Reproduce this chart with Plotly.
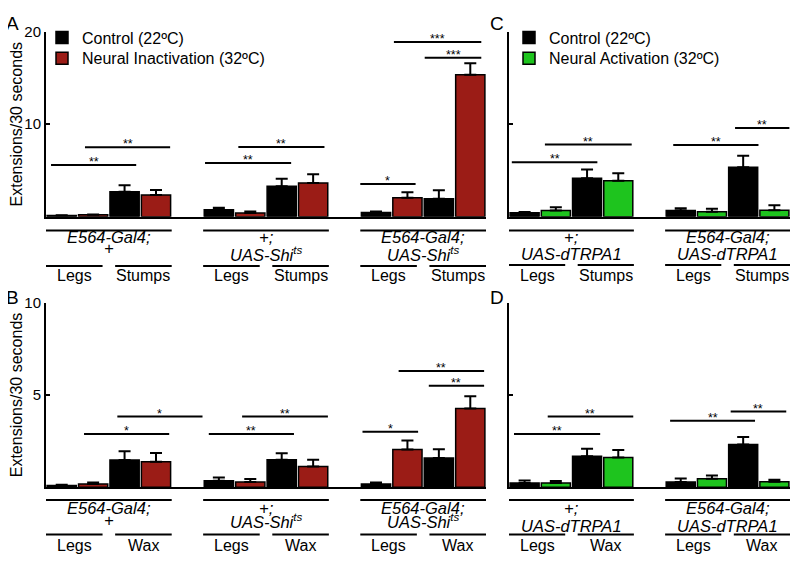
import plotly.graph_objects as go

# ---------------- data ----------------
# bar order inside each genotype: Legs-control, Legs-32C, Stumps/Wax-control, Stumps/Wax-32C
genotypes_AB = ["E564-Gal4;|+", "+;|UAS-Shi<sup>ts</sup>", "E564-Gal4;|UAS-Shi<sup>ts</sup>"]
genotypes_CD = ["+;|UAS-dTRPA1", "E564-Gal4;|UAS-dTRPA1"]

# Panel A (stumps, inactivation)
A_ctrl = [0.12, 2.70, 0.74, 3.30, 0.46, 1.95]
A_ctrl_err = [0.04, 0.70, 0.22, 0.80, 0.10, 0.92]
A_trt = [0.20, 2.34, 0.40, 3.65, 2.05, 15.35]
A_trt_err = [0.05, 0.56, 0.16, 0.95, 0.60, 1.25]

# Panel B (wax, inactivation)
B_ctrl = [0.10, 1.47, 0.35, 1.49, 0.18, 1.58]
B_ctrl_err = [0.03, 0.48, 0.18, 0.35, 0.07, 0.48]
B_trt = [0.18, 1.38, 0.28, 1.13, 2.04, 4.27]
B_trt_err = [0.07, 0.48, 0.16, 0.36, 0.49, 0.66]

# Panel C (stumps, activation)
C_ctrl = [0.43, 4.15, 0.68, 5.36]
C_ctrl_err = [0.07, 0.95, 0.24, 1.24]
C_trt = [0.68, 3.90, 0.53, 0.70]
C_trt_err = [0.35, 0.80, 0.32, 0.53]

# Panel D (wax, activation)
D_ctrl = [0.23, 1.68, 0.28, 2.32]
D_ctrl_err = [0.14, 0.41, 0.20, 0.41]
D_trt = [0.23, 1.61, 0.46, 0.30]
D_trt_err = [0.11, 0.41, 0.18, 0.11]

# significance brackets: (x0, x1, y, label) in data units
A_sig = [(0.16, 2.87, 5.6, "**"), (1.24, 3.95, 7.5, "**"),
         (5.06, 7.80, 5.8, "**"), (6.12, 8.86, 7.55, "**"),
         (10.0, 11.76, 3.55, "*"), (12.05, 13.85, 17.2, "***"), (11.07, 13.85, 18.9, "***")]
B_sig = [(1.21, 3.92, 2.89, "*"), (2.27, 4.98, 3.83, "*"),
         (5.18, 7.89, 2.89, "**"), (6.24, 8.97, 3.83, "**"),
         (10.07, 11.84, 3.01, "*"), (12.18, 13.94, 5.5, "**"), (11.22, 13.94, 6.3, "**")]
C_sig = [(0.09, 2.83, 5.9, "**"), (1.15, 3.93, 7.8, "**"),
         (5.26, 7.99, 7.75, "**"), (7.24, 8.98, 9.6, "**")]
D_sig = [(0.16, 2.92, 2.89, "**"), (1.24, 3.98, 3.83, "**"),
         (5.16, 7.88, 3.6, "**"), (7.10, 8.88, 4.1, "**")]

# ---------------- style ----------------
BLACK = "#000000"
RED = "#9B1C16"
GREEN = "#1EC41E"
FONT = "Liberation Sans, Arial, sans-serif"
OFF = 8                      # page body margin
W, H = 800 - OFF, 562 - OFF


def py(px):  # window pixel from top -> paper fraction
    return (H - (px - OFF)) / H


def pxx(px):
    return (px - OFF) / W


fig = go.Figure()


def positions(n_groups):
    ctrl_x, trt_x = [], []
    for g in range(n_groups):
        s = g * 5
        ctrl_x += [s + 0.5, s + 2.5]
        trt_x += [s + 1.5, s + 3.5]
    return ctrl_x, trt_x


def add_panel(ax, ctrl, ctrl_err, trt, trt_err, n_groups, trt_color, trt_name, legends, show):
    cx, tx = positions(n_groups)
    for (xs, vals, errs, col, name), lg in zip([(cx, ctrl, ctrl_err, BLACK, "Control (22ºC)"),
                                                (tx, trt, trt_err, trt_color, trt_name)], legends):
        fig.add_trace(go.Bar(
            x=xs, y=vals, width=0.93, name=name,
            marker=dict(color=col, line=dict(color=BLACK, width=1.5)),
            error_y=dict(type="data", symmetric=False, array=errs,
                         arrayminus=[0] * len(errs), color=BLACK, thickness=2, width=6),
            xaxis="x" + ax, yaxis="y" + ax, showlegend=show, legend=lg,
        ))


add_panel("", A_ctrl, A_ctrl_err, A_trt, A_trt_err, 3, RED, "Neural Inactivation (32ºC)", ["legend", "legend2"], True)
add_panel("2", B_ctrl, B_ctrl_err, B_trt, B_trt_err, 3, RED, "Neural Inactivation (32ºC)", ["legend", "legend2"], False)
add_panel("3", C_ctrl, C_ctrl_err, C_trt, C_trt_err, 2, GREEN, "Neural Activation (32ºC)", ["legend3", "legend4"], True)
add_panel("4", D_ctrl, D_ctrl_err, D_trt, D_trt_err, 2, GREEN, "Neural Activation (32ºC)", ["legend3", "legend4"], False)

shapes, annots = [], []


def add_sig(ax, sig):
    for x0, x1, y, lab in sig:
        shapes.append(dict(type="line", xref="x" + ax, yref="y" + ax, x0=x0, x1=x1, y0=y, y1=y,
                           line=dict(color=BLACK, width=2)))
        annots.append(dict(xref="x" + ax, yref="y" + ax, x=(x0 + x1) / 2, y=y, text=lab,
                           showarrow=False, yanchor="middle", yshift=3,
                           font=dict(size=12.5, color=BLACK, family=FONT)))


add_sig("", A_sig)
add_sig("2", B_sig)
add_sig("3", C_sig)
add_sig("4", D_sig)


def add_labels(ax, genos, right_label, rows):
    grp_line, l1, l2, plus_y, short_line, lab_y = rows
    for g, geno in enumerate(genos):
        s = g * 5
        top, bot = geno.split("|")
        shapes.append(dict(type="line", xref="x" + ax, yref="paper", x0=s, x1=s + 4,
                           y0=py(grp_line), y1=py(grp_line), line=dict(color=BLACK, width=2)))
        annots.append(dict(xref="x" + ax, yref="paper", x=s + 2, y=py(l1), text="<i>" + top + "</i>",
                           showarrow=False, yanchor="middle", font=dict(size=16.5, family=FONT, color=BLACK)))
        yb = plus_y if bot == "+" else l2
        annots.append(dict(xref="x" + ax, yref="paper", x=s + 2, y=py(yb), text="<i>" + bot + "</i>",
                           showarrow=False, yanchor="middle", font=dict(size=16.5, family=FONT, color=BLACK)))
        for a, b, t in [(s, s + 1.8, "Legs"), (s + 2.2, s + 4, right_label)]:
            shapes.append(dict(type="line", xref="x" + ax, yref="paper", x0=a, x1=b,
                               y0=py(short_line), y1=py(short_line), line=dict(color=BLACK, width=2)))
            annots.append(dict(xref="x" + ax, yref="paper", x=(a + b) / 2, y=py(lab_y), text=t,
                               showarrow=False, yanchor="middle", font=dict(size=16, family=FONT, color=BLACK)))


add_labels("", genotypes_AB, "Stumps", (225, 232, 249, 243, 261, 271))
add_labels("2", genotypes_AB, "Wax", (499, 507, 520, 519, 534, 545))
add_labels("3", genotypes_CD, "Stumps", (225, 232, 249, 243, 260, 271))
add_labels("4", genotypes_CD, "Wax", (499, 507, 525, 519, 534, 545))

for letter, x, y in [("A", 12, 15), ("B", 12, 293), ("C", 497, 15), ("D", 497, 293)]:
    annots.append(dict(xref="paper", yref="paper", x=pxx(x), y=py(y), text=letter, showarrow=False,
                       xanchor="center", yanchor="middle", font=dict(size=19, family=FONT, color=BLACK)))

xA = [pxx(46), pxx(486)]
xC = [pxx(509), pxx(790)]
yTop = [py(211), py(23)]
yBot = [py(486), py(298.5)]


def xaxis(dom, rng, anchor):
    return dict(domain=dom, range=rng, anchor=anchor, showline=True, linecolor=BLACK, linewidth=2,
                showticklabels=False, ticks="", showgrid=False, zeroline=False, fixedrange=True)


def yaxis(dom, rng, anchor, tickvals, labels, title):
    return dict(domain=dom, range=rng, anchor=anchor, showline=True, linecolor=BLACK, linewidth=2,
                ticks="inside", ticklen=4, tickwidth=2, tickcolor=BLACK,
                tickvals=tickvals, ticktext=labels, showticklabels=True,
                tickfont=dict(size=15, family=FONT, color=BLACK),
                title=dict(text=title, font=dict(size=16, family=FONT, color=BLACK), standoff=1),
                showgrid=False, zeroline=False)


def legend(x, y):
    return dict(x=pxx(x), y=py(y), xanchor="left", yanchor="middle", bgcolor="rgba(0,0,0,0)",
                font=dict(size=16, family=FONT, color=BLACK), itemclick=False, borderwidth=0)


fig.update_layout(
    width=W, height=H, margin=dict(l=0, r=0, t=0, b=0),
    paper_bgcolor="white", plot_bgcolor="white", barmode="overlay",
    font=dict(family=FONT, color=BLACK),
    xaxis=xaxis(xA, [0, 14], "y"),
    yaxis=yaxis(yTop, [0, 20], "x", [10, 20], ["10", "20"], "Extensions/30 seconds"),
    xaxis2=xaxis(xA, [0, 14], "y2"),
    yaxis2=yaxis(yBot, [0, 10], "x2", [5, 10], ["5", "10"], "Extensions/30 seconds"),
    xaxis3=xaxis(xC, [0, 9], "y3"),
    yaxis3=yaxis(yTop, [0, 20], "x3", [10, 20], ["", ""], ""),
    xaxis4=xaxis(xC, [0, 9], "y4"),
    yaxis4=yaxis(yBot, [0, 10], "x4", [5, 10], ["", ""], ""),
    legend=legend(42, 29),
    legend2=legend(42, 50),
    legend3=legend(509, 29),
    legend4=legend(509, 50),
    shapes=shapes, annotations=annots,
)

fig.write_html("out.html")
